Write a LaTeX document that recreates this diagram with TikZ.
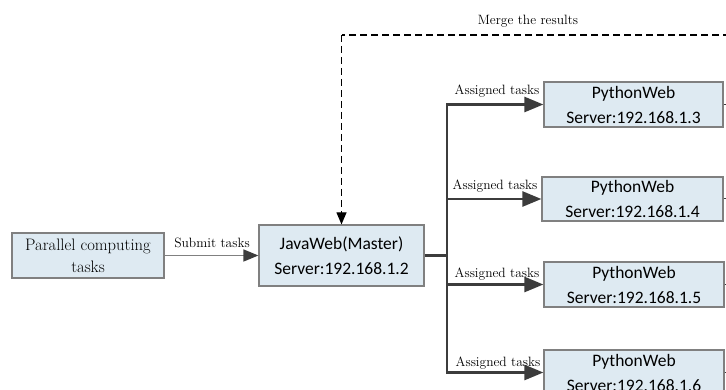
\documentclass[tikz,border=0pt]{standalone}
\usepackage{fontspec}
\newfontfamily\boxfont{Carlito}
\usetikzlibrary{arrows.meta}
\definecolor{boxfill}{HTML}{DEEAF2}
\definecolor{boxline}{HTML}{808080}
\definecolor{arrdark}{HTML}{3C3C3C}
\begin{document}
\begin{tikzpicture}[x=1pt,y=-1pt,
  srvbox/.style={draw=boxline,line width=1.2pt,fill=boxfill,align=center,inner sep=0pt,
     font=\boxfont\fontsize{17.5}{25}\selectfont},
  lbl/.style={font=\fontsize{13.5}{16}\selectfont,inner sep=0pt},
  branch/.style={draw=arrdark,line width=2.6pt,-{Triangle[length=19pt,width=15pt]}},
  merge/.style={draw=black,line width=1.1pt,dash pattern=on 7pt off 4pt}
]
\useasboundingbox (0,0) rectangle (726,390);
% nodes
\node[srvbox,font=\fontsize{16.6}{22}\selectfont,minimum width=152pt,minimum height=45pt] (task) at (88,255.5) {Parallel computing\\tasks};
\node[srvbox,minimum width=165pt,minimum height=61pt] (master) at (341.5,255.5) {JavaWeb(Master)\\Server:192.168.1.2};
\node[srvbox,minimum width=179pt,minimum height=45pt] (p1) at (633.5,104.5) {PythonWeb\\Server:192.168.1.3};
\node[srvbox,minimum width=181pt,minimum height=44pt] (p2) at (632.5,199) {PythonWeb\\Server:192.168.1.4};
\node[srvbox,minimum width=180pt,minimum height=45pt] (p3) at (634,284.5) {PythonWeb\\Server:192.168.1.5};
\node[srvbox,minimum width=180pt,minimum height=45pt] (p4) at (634,372.5) {PythonWeb\\Server:192.168.1.6};
% submit
\draw[draw=boxline,line width=1.5pt,-{Triangle[length=15pt,width=12pt,color=arrdark]}] (task.east) -- (master.west);
\node[lbl] (sublbl) at (212,243) {Submit tasks};
% trunk
\coordinate (t0) at (447,255.5);
\coordinate (t1) at (447,104.5);
\coordinate (t2) at (447,199);
\coordinate (t3) at (447,284.5);
\coordinate (t4) at (447,372.5);
\draw[draw=arrdark,line width=2.6pt] (master.east) -- (t0);
\draw[draw=arrdark,line width=2.6pt,line cap=rect] (t1) -- (t4);
\draw[branch] (t1) -- (p1.west);
\draw[branch] (t2) -- (p2.west);
\draw[branch] (t3) -- (p3.west);
\draw[branch] (t4) -- (p4.west);
\node[lbl] (a1) at (497,91.5) {Assigned tasks};
\node[lbl] (a2) at (495,186) {Assigned tasks};
\node[lbl] (a3) at (497,274) {Assigned tasks};
\node[lbl] (a4) at (498,363) {Assigned tasks};
% merge
\coordinate (m0) at (730,35);
\coordinate (m1) at (341.5,35);
\draw[merge] (m0) -- (m1);
\draw[merge,-{Triangle[length=12pt,width=10pt,color=black]}] (m1) -- (master.north);
\node[lbl] (mlbl) at (528,21) {Merge the results};
% stubs
\foreach \p in {p1,p2,p3,p4}{\draw[draw=arrdark,line width=1pt] (\p.east) -- ++(6,0);}
\end{tikzpicture}
\end{document}
